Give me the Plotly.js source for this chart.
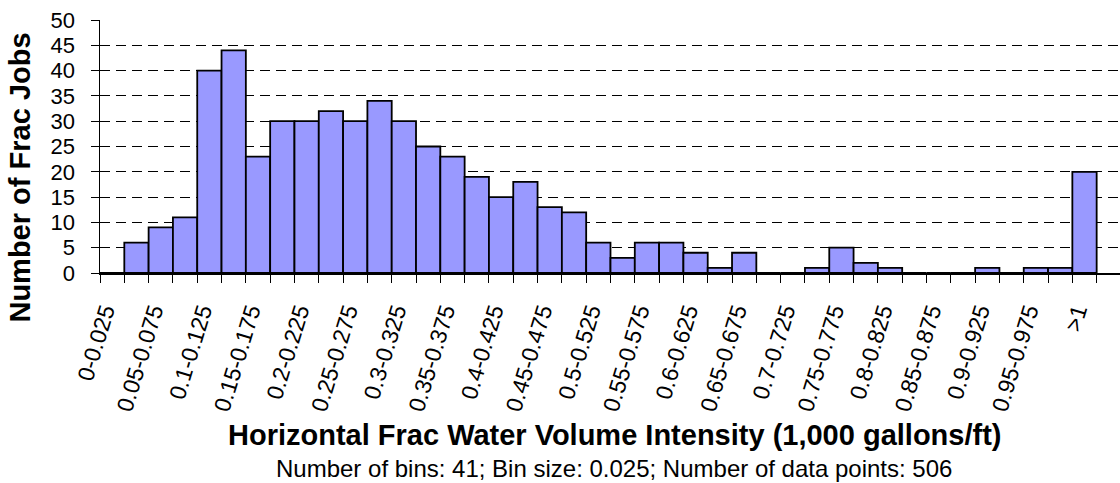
<!DOCTYPE html>
<html>
<head>
<meta charset="utf-8">
<script src="https://cdn.plot.ly/plotly-3.0.1.min.js"></script>
<style>
  html, body { margin: 0; padding: 0; background: #ffffff; }
  #chart { width: 1120px; height: 483px; }
</style>
</head>
<body>
<div id="chart"></div>
<script>
// Bin labels (41 bins of 0.025 plus overflow)
const categories = [
  "0-0.025", "0.025-0.05", "0.05-0.075", "0.075-0.1", "0.1-0.125", "0.125-0.15",
  "0.15-0.175", "0.175-0.2", "0.2-0.225", "0.225-0.25", "0.25-0.275", "0.275-0.3",
  "0.3-0.325", "0.325-0.35", "0.35-0.375", "0.375-0.4", "0.4-0.425", "0.425-0.45",
  "0.45-0.475", "0.475-0.5", "0.5-0.525", "0.525-0.55", "0.55-0.575", "0.575-0.6",
  "0.6-0.625", "0.625-0.65", "0.65-0.675", "0.675-0.7", "0.7-0.725", "0.725-0.75",
  "0.75-0.775", "0.775-0.8", "0.8-0.825", "0.825-0.85", "0.85-0.875", "0.875-0.9",
  "0.9-0.925", "0.925-0.95", "0.95-0.975", "0.975-1", ">1"
];

// Number of frac jobs per bin
const counts = [
  0, 6, 9, 11, 40, 44,
  23, 30, 30, 32, 30, 34,
  30, 25, 23, 19, 15, 18,
  13, 12, 6, 3, 6, 6,
  4, 1, 4, 0, 0, 1,
  5, 2, 1, 0, 0, 0,
  1, 0, 1, 1, 20
];

// Tick labels shown on the axis (every other bin)
const tickLabels = [
  "0-0.025", "", "0.05-0.075", "", "0.1-0.125", "",
  "0.15-0.175", "", "0.2-0.225", "", "0.25-0.275", "",
  "0.3-0.325", "", "0.35-0.375", "", "0.4-0.425", "",
  "0.45-0.475", "", "0.5-0.525", "", "0.55-0.575", "",
  "0.6-0.625", "", "0.65-0.675", "", "0.7-0.725", "",
  "0.75-0.775", "", "0.8-0.825", "", "0.85-0.875", "",
  "0.9-0.925", "", "0.95-0.975", "", ">1"
];

const yTitle = "Number of Frac Jobs";
const xTitle = "Horizontal Frac Water Volume Intensity (1,000 gallons/ft)";
const subTitle = "Number of bins: 41; Bin size: 0.025; Number of data points: 506";

const FONT = "Liberation Sans, Arial, Helvetica, sans-serif";

const trace = {
  type: "bar",
  x: categories,
  y: counts,
  marker: { color: "#9999FF", line: { color: "#000000", width: 1.8 } },
  hoverinfo: "x+y"
};

const layout = {
  width: 1120,
  height: 483,
  margin: { l: 100, r: 0, t: 20, b: 210 },
  paper_bgcolor: "#ffffff",
  plot_bgcolor: "#ffffff",
  bargap: 0,
  showlegend: false,
  font: { family: FONT, color: "#000000" },
  xaxis: {
    type: "category",
    range: [-0.5, 41.46],
    tickmode: "array",
    tickvals: categories,
    ticktext: tickLabels,
    tickson: "boundaries",
    ticks: "outside",
    ticklen: 8,
    tickwidth: 1,
    tickcolor: "#000000",
    tickangle: -73,
    ticklabelstandoff: 14,
    ticklabelshift: -8,
    tickfont: { family: FONT, size: 23, color: "#000000" },
    showline: true,
    linecolor: "#000000",
    linewidth: 1.5,
    showgrid: false,
    zeroline: false,
    fixedrange: true
  },
  yaxis: {
    range: [0, 50],
    dtick: 5,
    tick0: 0,
    ticks: "outside",
    ticklen: 8,
    tickwidth: 1,
    tickcolor: "#000000",
    ticklabelstandoff: 11,
    tickfont: { family: FONT, size: 22, color: "#000000" },
    showline: true,
    linecolor: "#000000",
    linewidth: 1.5,
    showgrid: true,
    gridcolor: "#000000",
    gridwidth: 1,
    griddash: "10px,6px",
    zeroline: false,
    fixedrange: true
  },
  annotations: [
    {
      text: yTitle, xref: "paper", yref: "paper",
      x: -0.078, y: 0.379, xanchor: "center", yanchor: "middle",
      textangle: -90, showarrow: false,
      font: { family: FONT, size: 29, color: "#000000", weight: "bold" }
    },
    {
      text: xTitle, xref: "paper", yref: "paper",
      x: 0.504, y: -0.64, xanchor: "center", yanchor: "middle",
      showarrow: false,
      font: { family: FONT, size: 29, color: "#000000", weight: "bold" }
    },
    {
      text: subTitle, xref: "paper", yref: "paper",
      x: 0.504, y: -0.773, xanchor: "center", yanchor: "middle",
      showarrow: false,
      font: { family: FONT, size: 24, color: "#000000" }
    }
  ]
};

Plotly.newPlot("chart", [trace], layout, { displayModeBar: false, staticPlot: true });
</script>
</body>
</html>
